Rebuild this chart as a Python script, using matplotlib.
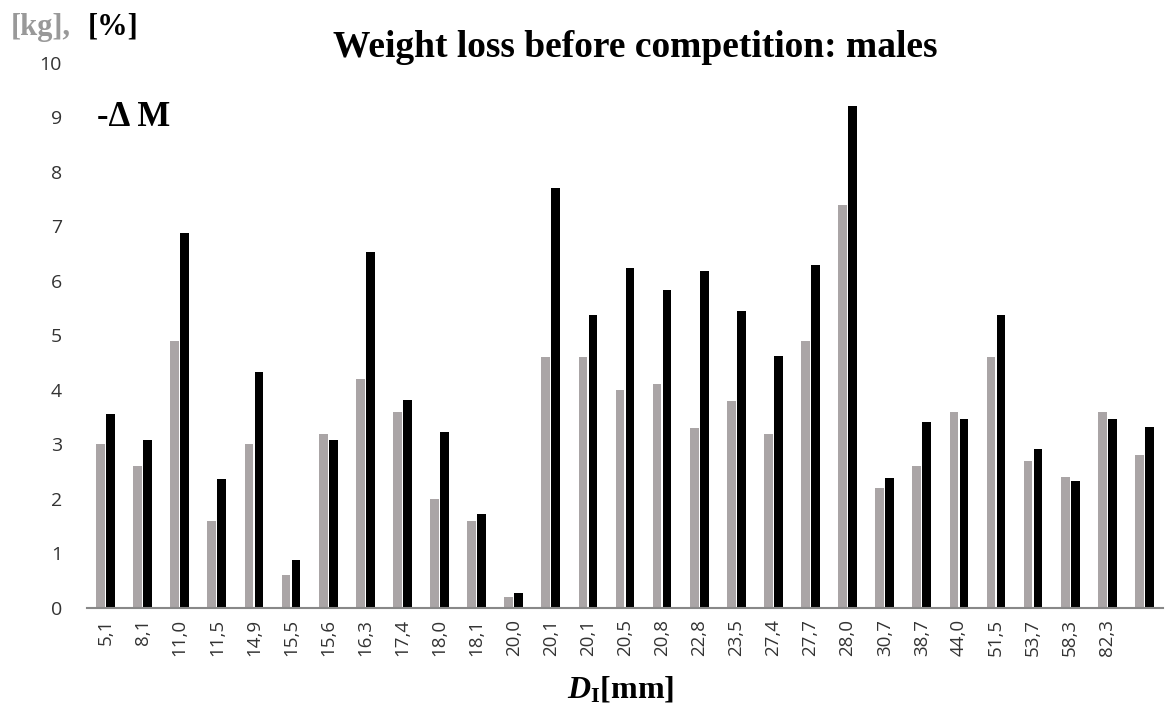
import numpy as np
import matplotlib
matplotlib.use("Agg")
import matplotlib.pyplot as plt

# Dane z wykresu
labels = ["5,1", "8,1", "11,0", "11,5", "14,9", "15,5", "15,6", "16,3", "17,4", "18,0",
          "18,1", "20,0", "20,1", "20,1", "20,5", "20,8", "22,8", "23,5", "27,4", "27,7",
          "28,0", "30,7", "38,7", "44,0", "51,5", "53,7", "58,3", "82,3", ""]
loss_kg = [3.0, 2.6, 4.9, 1.6, 3.0, 0.6, 3.2, 4.2, 3.6, 2.0,
           1.6, 0.2, 4.6, 4.6, 4.0, 4.1, 3.3, 3.8, 3.2, 4.9,
           7.4, 2.2, 2.6, 3.6, 4.6, 2.7, 2.4, 3.6, 2.8]
loss_pct = [3.56, 3.09, 6.88, 2.36, 4.33, 0.88, 3.08, 6.53, 3.82, 3.22,
            1.73, 0.27, 7.71, 5.37, 6.24, 5.83, 6.19, 5.44, 4.63, 6.29,
            9.21, 2.38, 3.42, 3.46, 5.37, 2.92, 2.33, 3.46, 3.32]
y_ticks = list(range(0, 11))

gray = "#aaa5a6"
serif = "Liberation Serif"
plt.rcParams["mathtext.fontset"] = "custom"
plt.rcParams["mathtext.rm"] = "Liberation Serif:bold"
plt.rcParams["mathtext.it"] = "Liberation Serif:italic:bold"
plt.rcParams["mathtext.bf"] = "Liberation Serif:bold"

fig = plt.figure(figsize=(11.66, 7.15), dpi=100)
ax = fig.add_axes([0.0746, 0.1497, 0.9228, 0.7623])

x = np.arange(len(labels))
w = 0.235
ax.bar(x - 0.135, loss_kg, width=w, color=gray)
ax.bar(x + 0.135, loss_pct, width=w, color="black")

ax.set_xlim(-0.5, len(labels) - 0.5)
ax.set_ylim(0, 10)
ax.set_yticks(y_ticks)
ax.set_xticks(x)
ax.set_xticklabels(labels, rotation=90)

for s in ["top", "right", "left"]:
    ax.spines[s].set_visible(False)
ax.spines["bottom"].set_color("#888888")
ax.spines["bottom"].set_linewidth(1.5)

ax.tick_params(axis="y", length=0, pad=18, labelsize=14, labelcolor="#333333")
ax.tick_params(axis="x", length=0, pad=8, labelsize=13.5, labelcolor="#333333")
for lab in ax.get_xticklabels() + ax.get_yticklabels():
    lab.set_family("Open Sans")

# Teksty
fig.text(0.545, 0.933, "Weight loss before competition: males", ha="center", va="center",
         fontsize=27, fontweight="bold", family=serif)
fig.text(0.009, 0.962, "[kg],", ha="left", va="center", fontsize=22,
         fontweight="bold", family=serif, color="#999999")
fig.text(0.0755, 0.962, "[%]", ha="left", va="center", fontsize=22,
         fontweight="bold", family=serif, color="black")
fig.text(0.083, 0.835, "-\u0394\u2009M", ha="left", va="center",
         fontsize=25, fontweight="bold", family=serif)
fig.text(0.532, 0.035, r"$D_{\mathrm{I}}$[mm]", ha="center", va="center",
         fontsize=23, fontweight="bold", family=serif)

fig.savefig("out.png", dpi=100)
